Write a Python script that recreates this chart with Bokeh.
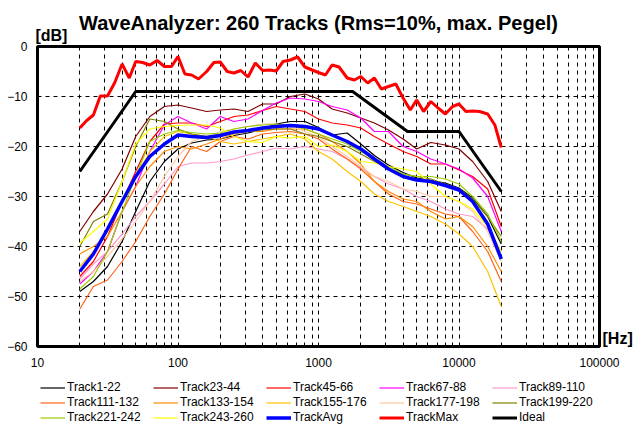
from bokeh.plotting import figure
from bokeh.layouts import column
from bokeh.models import (FixedTicker, Legend, LegendItem, NumeralTickFormatter, LinearAxis,
                          LogAxis, CustomJSTickFormatter)
from bokeh.embed import file_html
from bokeh.resources import INLINE

# third-octave frequencies (Hz)
freqs3 = [20, 25, 31.5, 40, 50, 63, 80, 100, 125, 160, 200, 250, 315, 400, 500, 630, 800,
          1000, 1250, 1600, 2000, 2500, 3150, 4000, 5000, 6300, 8000, 10000, 12500, 16000, 20000]
# sixth-octave frequencies (Hz) for TrackMax
freqs6 = [20, 22.4, 25, 28, 31.5, 35.5, 40, 45, 50, 56, 63, 71, 80, 90, 100, 112, 125, 140,
          160, 180, 200, 224, 250, 280, 315, 355, 400, 450, 500, 560, 630, 710, 800, 900, 1000,
          1120, 1250, 1400, 1600, 1800, 2000, 2240, 2500, 2800, 3150, 3550, 4000, 4500, 5000,
          5600, 6300, 7100, 8000, 9000, 10000, 11200, 12500, 14000, 16000, 18000, 20000]

track_1_22 = [-49, -47, -44, -39, -33, -27, -23, -20.5, -19.3, -18.7, -18.5, -17.8, -17.3, -16.5,
              -15.5, -15, -15, -16.2, -17.7, -17.3, -19.5, -21.8, -23.7, -25.2, -26.3, -26.8,
              -27.3, -28.3, -30.3, -34, -39.5]
track_23_44 = [-37, -33, -29.5, -24.5, -18, -14, -12, -11.7, -12.3, -13, -12.7, -12.5, -13, -11.5,
               -11.5, -10, -9.5, -10.5, -12.5, -13.3, -14.3, -15.3, -16.7, -18.5, -20.5, -19.2,
               -19.7, -20.5, -23, -27, -33]
track_45_66 = [-46, -43, -38, -31, -25, -19, -15.5, -15.3, -15.3, -16, -15, -14, -13.7, -12.8,
               -12, -12.5, -13, -14.5, -15.3, -15.7, -16.3, -18, -19.5, -21, -22, -23.5, -23.5,
               -24.7, -26, -28.5, -36]
track_67_88 = [-47.5, -45, -41, -33, -28, -21, -15.7, -14, -15.3, -16.5, -14, -15, -14.5, -12.8,
               -11.3, -10.3, -10.5, -11, -12, -12.7, -14.3, -17, -17, -20, -21, -22.5, -23.5,
               -24.5, -26.3, -30, -37]
track_89_110 = [-46.5, -43.5, -41, -37.5, -34, -31, -27.5, -24, -23.3, -23.3, -23, -22.5, -21.7,
                -21, -20.3, -20.5, -20, -20.5, -21, -22.5, -24.3, -26, -27.5, -28.5, -30, -31,
                -32.5, -33.5, -34, -36.5, -41]
track_111_132 = [-52.5, -48, -46.7, -43, -39, -34, -29.5, -24.5, -20, -21, -19, -18, -18.5, -17.5,
                 -17.2, -17, -17.5, -18.5, -20.5, -22.5, -24.5, -27, -29.5, -31, -31.5, -32.5,
                 -33.5, -34, -37, -41, -47]
track_133_154 = [-41.5, -40, -38, -33, -28, -24, -21, -20, -20.5, -19.5, -18.5, -17.5, -17, -17,
                 -16.5, -16.5, -16.5, -17.5, -19, -21, -23.5, -27, -29, -30.5, -31, -33, -34.5,
                 -34, -36, -40, -45]
track_155_176 = [-44, -41, -37, -31, -26, -21, -18, -17, -17.5, -18, -19, -19.5, -19, -18.5, -18,
                 -17.5, -18.5, -21, -22.5, -25, -27, -29.5, -31, -32, -33, -34, -35.5, -37.5,
                 -40, -45, -52]
track_177_198 = [-47, -45, -42, -38.5, -35, -31, -26, -22, -19, -18, -17, -16.5, -16, -15.5,
                 -15.5, -16, -17, -18, -20, -22, -24, -26, -27, -28.5, -29, -30, -30, -31, -33,
                 -37, -43]
track_199_220 = [-40, -35, -33.5, -27, -20, -14.5, -15, -16.5, -17.5, -18, -17.5, -17, -17, -16.7,
                 -16.5, -16.5, -17.5, -18, -19, -20, -21.5, -23, -24.5, -25.5, -26, -26.5, -27.5,
                 -28.5, -30.5, -34, -38]
track_221_242 = [-48.5, -46, -41, -33, -26, -19, -17.5, -16.8, -17.2, -17.5, -17.3, -16.5, -16,
                 -15.7, -15.5, -15.8, -16.5, -17.5, -18.5, -19.5, -21, -22.5, -24, -25.5, -26,
                 -26, -26.5, -27.5, -30, -33.5, -39]
track_243_260 = [-39.3, -37, -34.5, -27, -19.5, -16.5, -16, -15.8, -15.7, -15.7, -16.3, -18, -19,
                 -19.2, -18, -18.3, -18, -20, -19.7, -21, -23, -23.3, -24, -24.5, -25, -27.5,
                 -30, -31, -32.5, -36, -41]
track_avg = [-45, -41.5, -36.5, -31, -26, -22, -19.5, -17.7, -18, -18.2, -17.8, -17.1, -16.8,
             -16.3, -16, -15.8, -16, -16.5, -17.7, -19, -20.5, -22.5, -24.5, -26, -26.7, -27,
             -27.8, -28.7, -31, -35.5, -42.5]
track_max = [-16.3, -14.8, -13.7, -9.9, -9.9, -7.2, -3.5, -6.3, -3.0, -3.2, -3.7, -2.8, -4.0,
             -4.0, -2.0, -5.5, -5.7, -6.5, -5.0, -3.2, -3.1, -5.0, -5.3, -4.8, -6.1, -3.3, -4.8,
             -4.7, -4.9, -3.0, -2.7, -2.1, -4.1, -4.7, -5.2, -5.7, -3.7, -4.1, -6.3, -6.7, -6.0,
             -7.3, -6.3, -8.5, -8.0, -7.5, -10.3, -12.7, -10.7, -13.0, -11.0, -12.3, -13.5,
             -12.0, -11.5, -13.0, -12.9, -13.0, -13.5, -15.7, -20.2]
ideal_f = [20, 50, 1750, 4300, 10000, 20000]
ideal_db = [-25, -9, -9, -17, -17, -29]

names = ["Track1-22", "Track23-44", "Track45-66", "Track67-88", "Track89-110",
         "Track111-132", "Track133-154", "Track155-176", "Track177-198", "Track199-220",
         "Track221-242", "Track243-260", "TrackAvg", "TrackMax", "Ideal"]
series = [track_1_22, track_23_44, track_45_66, track_67_88, track_89_110, track_111_132,
          track_133_154, track_155_176, track_177_198, track_199_220, track_221_242,
          track_243_260, track_avg, track_max, ideal_db]
xs = [freqs3] * 13 + [freqs6, ideal_f]
colors = ["#000000", "#800000", "#FF0000", "#FF00FF", "#FF99CC", "#FF6418", "#FF8C00",
          "#FFC000", "#FFC8A0", "#808000", "#99CC00", "#FFFF00", "#0000FF", "#FF0000", "#000000"]
widths = [1.2] * 12 + [3.5, 3, 3]

title_text = "WaveAnalyzer: 260 Tracks (Rms=10%, max. Pegel)"
y_ticks = [-60, -50, -40, -30, -20, -10, 0]
x_major = [10, 100, 1000, 10000, 100000]
x_grid = [m * 10 ** e for e in range(1, 5) for m in range(1, 10)] + [100000]
db_unit, hz_unit = "[dB]", "[Hz]"

FONT = "Liberation Sans"

p = figure(width=640, height=372, x_axis_type="log", x_range=(10, 100000), y_range=(-60, 0),
           output_backend="svg", toolbar_location=None, title=title_text,
           min_border_left=37, min_border_right=41, min_border_top=46, min_border_bottom=26)
p.background_fill_color = "white"
p.border_fill_color = "white"
p.outline_line_color = "black"
p.outline_line_width = 3

p.title.align = "center"
p.title.text_font = FONT
p.title.text_font_size = "20px"
p.title.text_font_style = "bold"
p.title.text_color = "black"
p.title.standoff = -20


def style_axis(ax, size="12px", bold=False, standoff=10):
    ax.axis_line_color = None
    ax.major_tick_line_color = None
    ax.minor_tick_line_color = None
    ax.major_tick_out = 0
    ax.major_tick_in = 0
    ax.minor_tick_out = 0
    ax.minor_tick_in = 0
    ax.major_label_text_font = FONT
    ax.major_label_text_font_size = size
    ax.major_label_text_font_style = "bold" if bold else "normal"
    ax.major_label_text_color = "black"
    ax.major_label_standoff = standoff


style_axis(p.xaxis[0], standoff=11)
style_axis(p.yaxis[0], standoff=10)
p.xaxis.ticker = FixedTicker(ticks=x_major)
p.xaxis.formatter = NumeralTickFormatter(format="0")
p.yaxis.ticker = FixedTicker(ticks=y_ticks)

# unit captions drawn as single-tick axes
top_axis = LogAxis(ticker=FixedTicker(ticks=[12.57]),
                   formatter=CustomJSTickFormatter(code="return '%s'" % db_unit))
style_axis(top_axis, size="16px", bold=True, standoff=3)
p.add_layout(top_axis, "above")

right_axis = LinearAxis(ticker=FixedTicker(ticks=[-58.3]),
                        formatter=CustomJSTickFormatter(code="return '%s'" % hz_unit))
style_axis(right_axis, size="16px", bold=True, standoff=3)
p.add_layout(right_axis, "right")

p.xgrid.ticker = FixedTicker(ticks=x_grid)
p.ygrid.ticker = FixedTicker(ticks=y_ticks)
for g in (p.xgrid[0], p.ygrid[0]):
    g.grid_line_color = "black"
    g.grid_line_dash = "4 4"
    g.grid_line_width = 1

for xv, yv, c, w in zip(xs, series, colors, widths):
    p.line(xv, yv, line_color=c, line_width=w)

# legend on its own strip below the chart (its lines carry the same data, out of view)
lf = figure(width=640, height=58, x_range=(0, 1), y_range=(0, 1), output_backend="svg",
            toolbar_location=None, min_border=0, x_axis_location=None, y_axis_location=None)
lf.outline_line_color = None
lf.grid.visible = False
lf.background_fill_color = "white"
lf.border_fill_color = "white"
items = []
for name, xv, yv, c, w in zip(names, xs, series, colors, widths):
    r = lf.line(xv, yv, line_color=c, line_width=w)
    items.append(LegendItem(label=name, renderers=[r]))
legend = Legend(items=items, ncols=5, orientation="horizontal", location=(3, 6),
                glyph_width=25, glyph_height=13, label_width=85, label_height=13,
                label_standoff=2, spacing=1, padding=0, margin=0,
                border_line_color=None, background_fill_alpha=0,
                label_text_font=FONT, label_text_font_size="12px", label_text_color="black")
lf.add_layout(legend, "center")

layout = column(p, lf, spacing=0)
open("out.html", "w").write(file_html(layout, INLINE))
